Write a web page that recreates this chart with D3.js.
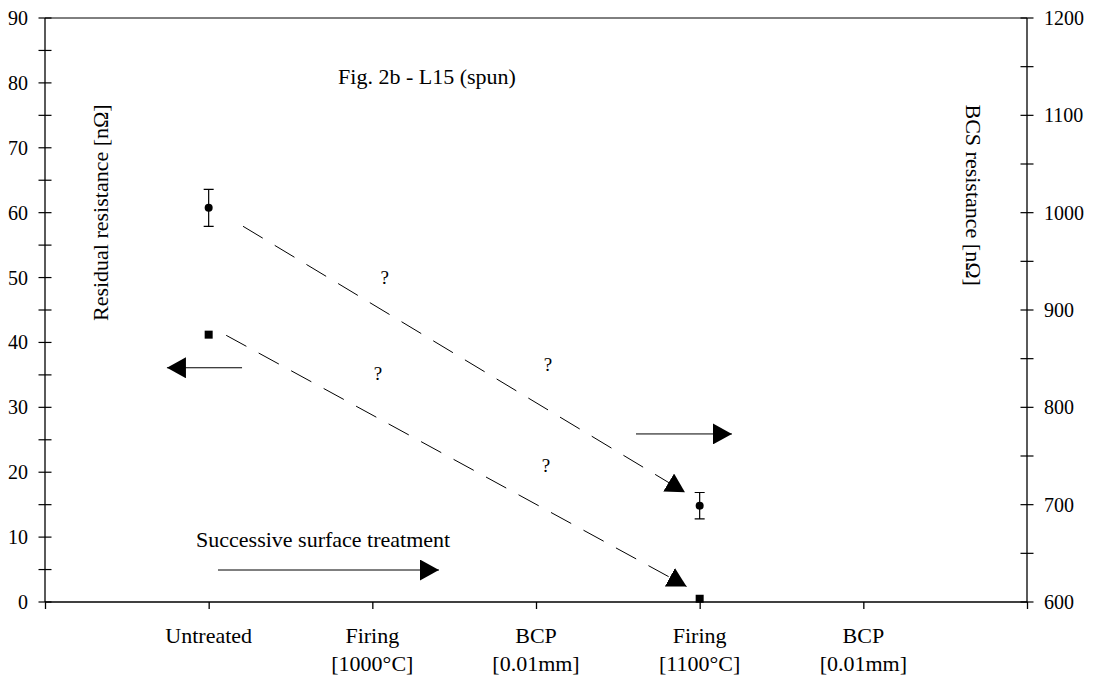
<!DOCTYPE html>
<html>
<head>
<meta charset="utf-8">
<script src="https://cdn.jsdelivr.net/npm/d3@7"></script>
<style>
  body { margin: 0; background: #fff; }
  text { font-family: "Liberation Serif", "Times New Roman", serif; fill: #000; }
</style>
</head>
<body>
<svg id="chart" width="1097" height="680"></svg>
<script>
// 处理步骤 (x 轴类别)
const steps = [
  ['Untreated'],
  ['Firing', '[1000°C]'],
  ['BCP', '[0.01mm]'],
  ['Firing', '[1100°C]'],
  ['BCP', '[0.01mm]']
];
// residual resistance, left axis [nΩ]
const residual = [
  { step: 1, value: 41.2 },
  { step: 4, value: 0.5 }
];
// BCS resistance, right axis [nΩ]
const bcs = [
  { step: 1, value: 1005, err: 19 },
  { step: 4, value: 699, err: 13.5 }
];
const leftTicks = d3.range(0, 91, 10);
const rightTicks = d3.range(600, 1201, 100);

// annotations, given in (step, left-axis value)
const trendLines = [
  [[1.21, 57.9], [3.91, 16.9]],
  [[1.107, 41.1], [3.92, 2.4]]
];
const plainArrows = [
  [[1.204, 36.1], [0.745, 36.1]],
  [[3.611, 25.9], [4.197, 25.9]],
  [[1.057, 4.93], [2.407, 4.93]]
];
const questionMarks = [[2.076, 50.1], [2.035, 35.3], [3.073, 36.7], [3.061, 21.0]];
const noteText = { text: 'Successive surface treatment', at: [0.923, 8.5] };
const title = 'Fig. 2b - L15 (spun)';

const margin = { top: 18, right: 70, bottom: 78, left: 45 };
const width = 1097, height = 680;
const svg = d3.select('#chart');

const x = d3.scaleLinear([0, 6], [margin.left, width - margin.right]);
const yL = d3.scaleLinear([0, 90], [height - margin.bottom, margin.top]);
const yR = d3.scaleLinear([600, 1200], [height - margin.bottom, margin.top]);

const tickFont = 20, labelFont = 22;

// arrowhead
svg.append('defs').append('marker')
  .attr('id', 'head')
  .attr('markerUnits', 'userSpaceOnUse')
  .attr('viewBox', '0 0 19 21')
  .attr('markerWidth', 19)
  .attr('markerHeight', 21)
  .attr('refX', 19)
  .attr('refY', 10.5)
  .attr('orient', 'auto')
  .append('path')
  .attr('d', 'M0,0L19,10.5L0,21Z')
  .attr('fill', '#000');

// frame top line
svg.append('line')
  .attr('x1', x(0)).attr('x2', x(6))
  .attr('y1', yL(90)).attr('y2', yL(90))
  .attr('stroke', '#000').attr('stroke-width', 1);

// x axis
svg.append('g')
  .attr('transform', `translate(0,${yL(0)})`)
  .call(d3.axisBottom(x).tickValues(d3.range(0, 7)).tickSize(7).tickFormat(''))
  .call(g => g.select('.domain').attr('stroke-width', 1.3).attr('d', `M${x(0)},0H${x(6)}`))
  .call(g => g.selectAll('.tick line').attr('stroke-width', 1.3));

svg.append('g')
  .selectAll('text')
  .data(steps)
  .join('text')
  .attr('text-anchor', 'middle')
  .attr('font-size', labelFont)
  .attr('transform', (d, i) => `translate(${x(i + 1)},${yL(0) + 41})`)
  .selectAll('tspan')
  .data(d => d)
  .join('tspan')
  .attr('x', 0)
  .attr('y', (d, i) => i * 28)
  .text(d => d);

// y axes, ticks cross the axis line
function crossTicks(g, scale, majors, minorStep, side) {
  const [lo, hi] = scale.domain();
  const all = d3.range(lo, hi + 0.001, minorStep);
  g.append('line')
    .attr('y1', scale(lo)).attr('y2', scale(hi))
    .attr('stroke', '#000').attr('stroke-width', 1.3);
  g.selectAll('.tk')
    .data(all)
    .join('line')
    .attr('class', 'tk')
    .attr('x1', -6.5).attr('x2', 6.5)
    .attr('y1', d => scale(d)).attr('y2', d => scale(d))
    .attr('stroke', '#000').attr('stroke-width', 1.2);
  g.selectAll('.lb')
    .data(majors)
    .join('text')
    .attr('class', 'lb')
    .attr('font-size', tickFont)
    .attr('text-anchor', side === 'left' ? 'end' : 'start')
    .attr('x', side === 'left' ? -17 : 17)
    .attr('y', d => scale(d))
    .attr('dy', '0.35em')
    .text(d => d);
}

svg.append('g')
  .attr('transform', `translate(${x(0)},0)`)
  .call(g => crossTicks(g, yL, leftTicks, 5, 'left'));
svg.append('g')
  .attr('transform', `translate(${x(6)},0)`)
  .call(g => crossTicks(g, yR, rightTicks, 50, 'right'));

// axis titles
svg.append('text')
  .attr('font-size', labelFont)
  .attr('text-anchor', 'middle')
  .attr('transform', `translate(108,${yL(60)}) rotate(-90)`)
  .text('Residual resistance [nΩ]');
svg.append('text')
  .attr('font-size', labelFont)
  .attr('text-anchor', 'middle')
  .attr('transform', `translate(966,${yL(62.7)}) rotate(90)`)
  .text('BCS resistance [nΩ]');

// title
svg.append('text')
  .attr('font-size', labelFont)
  .attr('text-anchor', 'middle')
  .attr('x', 427).attr('y', 84)
  .text(title);

// annotation lines
const pt = d => [x(d[0]), yL(d[1])];
svg.append('g')
  .selectAll('path')
  .data(trendLines)
  .join('path')
  .attr('d', d => d3.line()(d.map(pt)))
  .attr('fill', 'none')
  .attr('stroke', '#000')
  .attr('stroke-width', 1)
  .attr('stroke-dasharray', '23,14')
  .attr('marker-end', 'url(#head)');

svg.append('g')
  .selectAll('path')
  .data(plainArrows)
  .join('path')
  .attr('d', d => d3.line()(d.map(pt)))
  .attr('fill', 'none')
  .attr('stroke', '#000')
  .attr('stroke-width', 1)
  .attr('marker-end', 'url(#head)');

svg.append('g')
  .selectAll('text')
  .data(questionMarks)
  .join('text')
  .attr('font-size', 19)
  .attr('text-anchor', 'middle')
  .attr('x', d => x(d[0]))
  .attr('y', d => yL(d[1]))
  .attr('dy', '0.35em')
  .text('?');

svg.append('text')
  .attr('font-size', labelFont)
  .attr('x', x(noteText.at[0]))
  .attr('y', yL(noteText.at[1]))
  .text(noteText.text);

// residual: squares on left axis
svg.append('g')
  .selectAll('rect')
  .data(residual)
  .join('rect')
  .attr('x', d => x(d.step) - 4)
  .attr('y', d => yL(d.value) - 4)
  .attr('width', 8)
  .attr('height', 8)
  .attr('fill', '#000');

// BCS: circles with error bars on right axis
const bcsG = svg.append('g')
  .selectAll('g')
  .data(bcs)
  .join('g')
  .attr('stroke', '#000')
  .attr('stroke-width', 1.2);
bcsG.append('path')
  .attr('fill', 'none')
  .attr('d', d => {
    const cx = x(d.step), t = yR(d.value + d.err), b = yR(d.value - d.err);
    return `M${cx - 5},${t}H${cx + 5}M${cx},${t}V${b}M${cx - 5},${b}H${cx + 5}`;
  });
bcsG.append('circle')
  .attr('cx', d => x(d.step))
  .attr('cy', d => yR(d.value))
  .attr('r', 4)
  .attr('stroke', 'none')
  .attr('fill', '#000');
</script>
</body>
</html>
